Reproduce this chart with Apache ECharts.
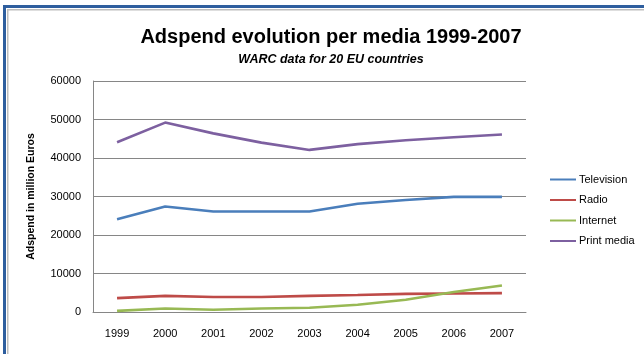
<!DOCTYPE html>
<html><head><meta charset="utf-8">
<script src="https://cdn.jsdelivr.net/npm/echarts@6/dist/echarts.min.js"></script>
<style>html,body{margin:0;padding:0;background:#fff}#c{width:644px;height:354px}</style>
</head><body><div id="c"></div>
<script>
const years = ['1999','2000','2001','2002','2003','2004','2005','2006','2007'];
const television = [24100, 27400, 26100, 26100, 26100, 28100, 29100, 29900, 29900];
const radio = [3600, 4200, 3900, 3900, 4200, 4400, 4700, 4800, 4900];
const internet = [300, 900, 600, 900, 1100, 1900, 3200, 5200, 6900];
const printMedia = [44100, 49200, 46400, 44000, 42100, 43600, 44600, 45400, 46100];
const seriesNames = ['Television', 'Radio', 'Internet', 'Print media'];
const colors = ['#4a7ebb', '#be4b48', '#98b954', '#7d60a0'];
const FONT = 'Liberation Sans';
const chart = echarts.init(document.getElementById('c'));
const mk = (name, data, i) => ({
  name, type: 'line', data, symbol: 'none', smooth: false,
  lineStyle: { width: 2.6, color: colors[i] }, itemStyle: { color: colors[i] }
});
chart.setOption({
  animation: false,
  textStyle: { fontFamily: FONT },
  title: {
    text: 'Adspend evolution per media 1999-2007',
    subtext: 'WARC data for 20 EU countries',
    left: 326, textAlign: 'center', top: 22, itemGap: 6,
    textStyle: { fontFamily: FONT, fontSize: 20, fontWeight: 'bold', color: '#000' },
    subtextStyle: { fontFamily: FONT, fontSize: 12.5, fontWeight: 'bold', fontStyle: 'italic', color: '#000' }
  },
  legend: {
    orient: 'vertical', left: 545, top: 169, itemGap: 9.5, itemWidth: 26, itemHeight: 14,
    icon: 'path://M0,6 L26,6 L26,8 L0,8 Z',
    data: seriesNames,
    textStyle: { fontFamily: FONT, fontSize: 11, color: '#000', padding: [0,0,0,-2] }
  },
  grid: { left: 93, right: 118, top: 81, bottom: 42, containLabel: false },
  xAxis: {
    type: 'category', data: years, boundaryGap: true,
    axisLine: { lineStyle: { color: '#868686', width: 1 } },
    axisTick: { show: false },
    axisLabel: { color: '#000', fontSize: 11, margin: 16, fontFamily: FONT }
  },
  yAxis: {
    type: 'value', min: 0, max: 60000, interval: 10000,
    name: 'Adspend in million Euros', nameLocation: 'middle', nameGap: 56, nameRotate: 90,
    nameTextStyle: { fontWeight: 'bold', fontSize: 10.5, color: '#000', fontFamily: FONT },
    axisLine: { show: true, lineStyle: { color: '#868686', width: 1 } },
    axisTick: { show: false },
    splitLine: { lineStyle: { color: '#868686', width: 1 } },
    axisLabel: { color: '#000', fontSize: 11, margin: 12, fontFamily: FONT, formatter: v => String(v) }
  },
  graphic: [
    { type: 'rect', shape: { x: 3, y: 5, width: 700, height: 3 }, style: { fill: '#2e5e9e' }, silent: true },
    { type: 'rect', shape: { x: 3, y: 5, width: 3, height: 400 }, style: { fill: '#2e5e9e' }, silent: true },
    { type: 'rect', shape: { x: 7, y: 9, width: 700, height: 1.5 }, style: { fill: '#bdbdbd' }, silent: true },
    { type: 'rect', shape: { x: 7, y: 9, width: 1.5, height: 400 }, style: { fill: '#bdbdbd' }, silent: true }
  ],
  series: [mk(seriesNames[0], television, 0), mk(seriesNames[1], radio, 1), mk(seriesNames[2], internet, 2), mk(seriesNames[3], printMedia, 3)]
});
</script></body></html>
